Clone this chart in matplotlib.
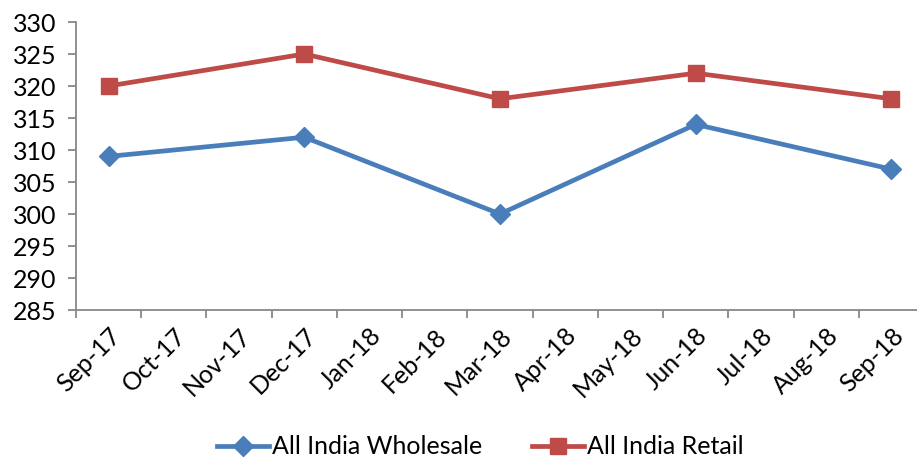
import matplotlib.pyplot as plt
import numpy as np

months = ["Sep-17", "Oct-17", "Nov-17", "Dec-17", "Jan-18", "Feb-18", "Mar-18",
          "Apr-18", "May-18", "Jun-18", "Jul-18", "Aug-18", "Sep-18"]
point_months = ["Sep-17", "Dec-17", "Mar-18", "Jun-18", "Sep-18"]
wholesale = [309, 312, 300, 314, 307]
retail = [320, 325, 318, 322, 318]

plt.rcParams['font.family'] = ['Lato', 'DejaVu Sans']

fig = plt.figure(figsize=(9.17, 4.63), dpi=100)
ax = fig.add_axes([76 / 917, 1 - 310 / 463, (924 - 76) / 917, 288 / 463])

xs = [months.index(m) for m in point_months]
ax.plot(xs, wholesale, color="#4A7EBB", lw=3.4, marker="D", ms=10,
        label="All India Wholesale", clip_on=False)
ax.plot(xs, retail, color="#BE4B48", lw=3.4, marker="s", ms=11.5,
        label="All India Retail", clip_on=False)

ax.set_xlim(-0.5, len(months) - 0.5)
ax.set_ylim(285, 330)
ax.set_yticks(np.arange(285, 331, 5))

ax.set_xticks(range(len(months)))
ax.set_xticklabels(months, rotation=45, ha="right", rotation_mode="anchor")
ax.set_xticks(np.arange(-0.5, len(months), 1), minor=True)
ax.tick_params(axis="x", which="major", length=0, pad=10, labelsize=18)
ax.tick_params(axis="x", which="minor", length=6, color="#888888", width=1.3)
ax.tick_params(axis="y", length=6, color="#888888", width=1.3, labelsize=18, pad=8)

for s in ["top", "right"]:
    ax.spines[s].set_visible(False)
for s in ["left", "bottom"]:
    ax.spines[s].set_color("#888888")
    ax.spines[s].set_linewidth(1.3)

fig.legend(loc="center", bbox_to_anchor=(480 / 917, 1 - 447 / 463), ncol=2,
           frameon=False, fontsize=18, handlelength=2.1, columnspacing=2.0,
           handletextpad=0.1)

fig.savefig("out.png", dpi=100)
